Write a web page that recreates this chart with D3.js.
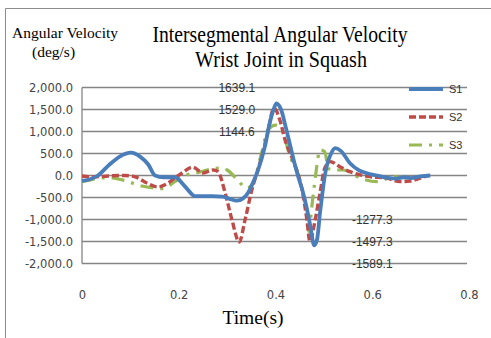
<!DOCTYPE html>
<html>
<head>
<meta charset="utf-8">
<script src="https://cdn.jsdelivr.net/npm/d3@7/dist/d3.min.js"></script>
<style>
  html, body { margin: 0; padding: 0; background: #fff; }
  svg { display: block; }
</style>
</head>
<body>
<script>
// Wrist joint intersegmental angular velocity (deg/s) over time (s), three subjects
const s1Time = [0, 0.015, 0.033, 0.055, 0.078, 0.101, 0.12, 0.137, 0.151, 0.168, 0.192, 0.213, 0.234, 0.25, 0.27, 0.29, 0.305, 0.32, 0.333, 0.343, 0.352, 0.364, 0.378, 0.388, 0.396, 0.402, 0.408, 0.413, 0.42, 0.43, 0.44, 0.447, 0.456, 0.464, 0.472, 0.48, 0.486, 0.492, 0.497, 0.502, 0.508, 0.515, 0.523, 0.535, 0.554, 0.572, 0.589, 0.61, 0.63, 0.65, 0.665, 0.68, 0.70, 0.72];
const s1Vel  = [-120, -90, 0, 230, 430, 518, 430, 250, 0, -40, -40, -250, -470, -470, -470, -480, -530, -570, -520, -400, -200, 125, 655, 1190, 1500, 1639.1, 1580, 1450, 1150, 700, 250, -30, -350, -710, -1150, -1589.1, -1450, -850, -400, 0, 300, 500, 620, 560, 277, 120, 50, 0, -50, -70, -40, -60, -20, 0];

const s2Time = [0, 0.027, 0.054, 0.089, 0.11, 0.134, 0.157, 0.178, 0.192, 0.207, 0.229, 0.25, 0.271, 0.281, 0.296, 0.31, 0.325, 0.337, 0.351, 0.368, 0.382, 0.397, 0.409, 0.42, 0.436, 0.455, 0.465, 0.471, 0.482, 0.492, 0.502, 0.513, 0.533, 0.554, 0.595, 0.63, 0.657, 0.678, 0.699, 0.713];
const s2Vel  = [-10, -30, -10, 0, -30, -170, -260, -170, -55, 57, 190, 57, 125, 87, -400, -1010, -1510, -1010, -330, 284, 880, 1529.0, 1260, 800, 350, -330, -1010, -1497.3, -1010, -400, 170, 315, 200, 87, -27, -60, -140, -125, -60, -10];

const s3Time = [0, 0.017, 0.037, 0.062, 0.083, 0.095, 0.124, 0.151, 0.165, 0.192, 0.213, 0.244, 0.269, 0.289, 0.30, 0.32, 0.341, 0.351, 0.372, 0.384, 0.401, 0.416, 0.43, 0.444, 0.455, 0.465, 0.469, 0.475, 0.48, 0.484, 0.492, 0.502, 0.509, 0.523, 0.54, 0.575, 0.61, 0.643, 0.684, 0.715];
const s3Vel  = [-140, -100, -55, -55, -100, -140, -240, -285, -300, -140, 0, 80, 150, 170, 125, -80, -285, -215, 540, 1035, 1144.6, 965, 430, 125, -330, -850, -1277.3, -710, -250, 100, 580, 540, 160, 125, 125, -60, -140, -30, -55, 0];

const seriesNames = ["S1", "S2", "S3"];
const peakLabels = [1639.1, 1529.0, 1144.6];
const troughLabels = [-1277.3, -1497.3, -1589.1];
const yTicks = [-2000, -1500, -1000, -500, 0, 500, 1000, 1500, 2000];
const xTicks = [0, 0.2, 0.4, 0.6, 0.8];

const W = 491, H = 338;
const svg = d3.select("body").append("svg").attr("width", W).attr("height", H);
svg.append("rect").attr("width", W).attr("height", H).attr("fill", "#fff");

// hyphen-minus instead of the typographic minus sign
const hyphen = f => d => f(d).replace("\u2212", "-");

// chart frame
svg.append("path")
  .attr("d", `M5.5,${H} V8.5 H${W}`)
  .attr("fill", "none").attr("stroke", "#8c8c8c").attr("stroke-width", 1);

const plot = { left: 82, right: 469, top: 87.5, bottom: 263.5 };
const x = d3.scaleLinear().domain([0, 0.8]).range([plot.left, plot.right]);
const y = d3.scaleLinear().domain([-2000, 2000]).range([plot.bottom, plot.top]);

// horizontal gridlines
svg.append("g").selectAll("line").data(yTicks).join("line")
  .attr("x1", plot.left).attr("x2", plot.right - 2)
  .attr("y1", d => y(d)).attr("y2", d => y(d))
  .attr("stroke", "#858585").attr("stroke-width", 1.3);
svg.append("line")
  .attr("x1", plot.left).attr("x2", plot.left)
  .attr("y1", plot.top).attr("y2", plot.bottom)
  .attr("stroke", "#858585").attr("stroke-width", 1.3);

// axes
const yAxis = svg.append("g").attr("transform", `translate(${plot.left},0)`)
  .call(d3.axisLeft(y).tickValues(yTicks).tickFormat(hyphen(d3.format(",.1f"))).tickSize(0).tickPadding(9));
const xAxis = svg.append("g").attr("transform", `translate(0,${plot.bottom})`)
  .call(d3.axisBottom(x).tickValues(xTicks).tickFormat(d => d === 0 ? "0" : d3.format(".1f")(d)).tickSize(0).tickPadding(27));
[yAxis, xAxis].forEach(g => {
  g.select(".domain").remove();
  g.selectAll("text").attr("fill", "#444").style("font-family", "'DejaVu Sans', sans-serif").style("font-size", "11.5px");
});

// series lines
const line = d3.line().x(d => x(d[0])).y(d => y(d[1])).curve(d3.curveMonotoneX);
const series = [
  { name: seriesNames[0], t: s1Time, v: s1Vel, color: "#4a7ebb", width: 3.8, dash: null },
  { name: seriesNames[1], t: s2Time, v: s2Vel, color: "#be4b48", width: 3.4, dash: "7,3" },
  { name: seriesNames[2], t: s3Time, v: s3Vel, color: "#98b954", width: 3.2, dash: "13,7,3,7" }
];
series.slice().reverse().forEach(s => {
  svg.append("path")
    .datum(d3.zip(s.t, s.v))
    .attr("d", line)
    .attr("fill", "none")
    .attr("stroke", s.color)
    .attr("stroke-width", s.width)
    .attr("stroke-dasharray", s.dash)
    .attr("stroke-linejoin", "round");
});

// peak / trough value labels
const labelFont = "'Liberation Sans', sans-serif";
const valFmt = hyphen(d3.format(".1f"));
svg.append("g").selectAll("text").data(peakLabels).join("text")
  .attr("x", x(0.32)).attr("y", (d, i) => y(2000 - i * 500))
  .attr("dy", "0.35em").attr("text-anchor", "middle")
  .style("font-family", labelFont).style("font-size", "12px").attr("fill", "#333")
  .text(valFmt);
svg.append("g").selectAll("text").data(troughLabels).join("text")
  .attr("x", x(0.6)).attr("y", (d, i) => y(-1000 - i * 500))
  .attr("dy", "0.35em").attr("text-anchor", "middle")
  .style("font-family", labelFont).style("font-size", "12px").attr("fill", "#333")
  .text(valFmt);

// legend
const legend = svg.append("g").selectAll("g").data(series).join("g")
  .attr("transform", (d, i) => `translate(409,${89 + i * 28})`);
legend.append("line")
  .attr("x1", 0).attr("x2", 34)
  .attr("stroke", d => d.color).attr("stroke-width", d => d.width)
  .attr("stroke-dasharray", d => d.dash);
legend.append("text")
  .attr("x", 40).attr("dy", "0.35em")
  .style("font-family", labelFont).style("font-size", "11px").attr("fill", "#333")
  .text(d => d.name);

// titles
const serif = "'Liberation Serif', 'Times New Roman', serif";
svg.append("text").attr("x", 280).attr("y", 42).attr("text-anchor", "middle")
  .attr("textLength", 255).attr("lengthAdjust", "spacingAndGlyphs")
  .style("font-family", serif).style("font-size", "23px").attr("fill", "#000")
  .text("Intersegmental Angular Velocity");
svg.append("text").attr("x", 281).attr("y", 67).attr("text-anchor", "middle")
  .attr("textLength", 172).attr("lengthAdjust", "spacingAndGlyphs")
  .style("font-family", serif).style("font-size", "23px").attr("fill", "#000")
  .text("Wrist Joint in Squash");

svg.append("text").attr("x", 12).attr("y", 38)
  .style("font-family", serif).style("font-size", "15.5px").attr("fill", "#000")
  .text("Angular Velocity");
svg.append("text").attr("x", 32).attr("y", 56.5)
  .style("font-family", serif).style("font-size", "15.5px").attr("fill", "#000")
  .text("(deg/s)");

svg.append("text").attr("x", 253).attr("y", 324).attr("text-anchor", "middle")
  .style("font-family", serif).style("font-size", "19.5px").attr("fill", "#000")
  .text("Time(s)");
</script>
</body>
</html>
